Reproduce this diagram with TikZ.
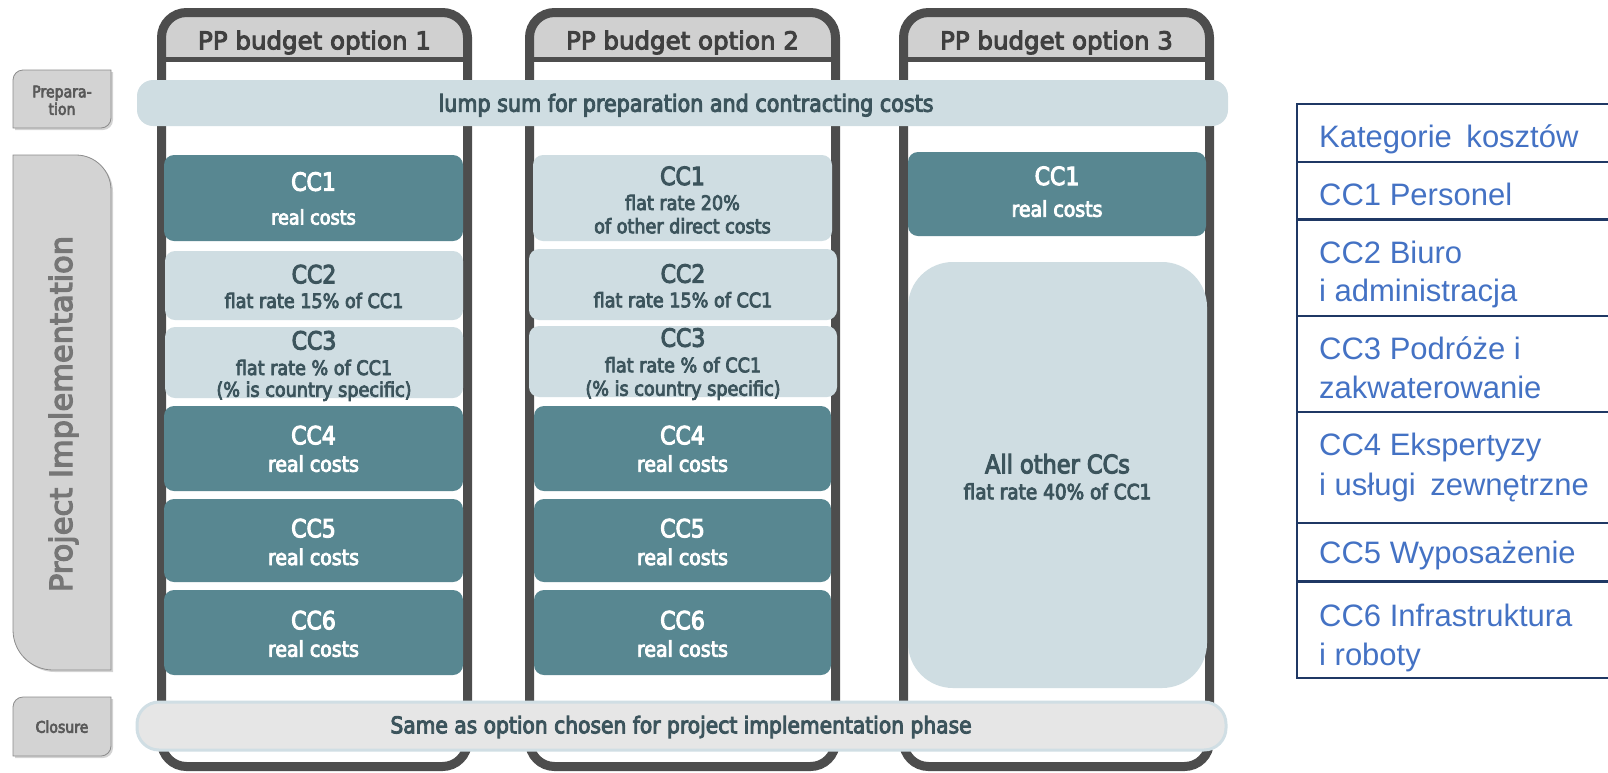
\documentclass[tikz,border=0pt]{standalone}
\usepackage{fontspec}
\setmainfont{DejaVu Sans}
\newfontfamily\narrowf{DejaVu Sans}[FakeStretch=0.88, FakeBold=4]
\newfontfamily\widef{DejaVu Sans}[FakeBold=4]
\newfontfamily\tablef{Liberation Sans}
\usetikzlibrary{shadows}
\newcommand\fsz[1]{\fontsize{#1}{#1}\selectfont}
\definecolor{teal1}{RGB}{88,135,145}
\definecolor{lightb}{RGB}{207,221,226}
\definecolor{framec}{RGB}{77,77,77}
\definecolor{hdr}{RGB}{208,208,208}
\definecolor{hdrtxt}{RGB}{64,64,64}
\definecolor{slate}{RGB}{60,84,92}
\definecolor{clfill}{RGB}{230,230,230}
\definecolor{clborder}{RGB}{208,222,228}
\definecolor{phfill}{RGB}{211,211,211}
\definecolor{phborder}{RGB}{140,140,140}
\definecolor{phtxt}{RGB}{89,89,89}
\definecolor{pitxt}{RGB}{118,118,118}
\definecolor{tbltxt}{RGB}{68,114,196}
\definecolor{tblline}{RGB}{31,56,100}
\begin{document}
\begin{tikzpicture}[x=1pt,y=-1pt,
  dark/.style={fill=teal1, draw=none, rounded corners=10pt, inner sep=0pt},
  light/.style={fill=lightb, draw=none, rounded corners=10pt, inner sep=0pt},
  txt/.style={anchor=base, inner sep=0pt},
  wttl/.style={txt, text=white, font={\narrowf\fsz{25}}},
  wsub/.style={txt, text=white, font={\narrowf\fsz{21.5}}},
  lttl/.style={txt, text=slate, font={\narrowf\fsz{25}}},
  lsub/.style={txt, text=slate, font={\narrowf\fsz{20}}},
  hdrtext/.style={txt, text=hdrtxt, font={\widef\fsz{24.5}}},
  phase/.style={fill=phfill, draw=phborder, line width=0.8pt, drop shadow={shadow xshift=2pt, shadow yshift=-2pt, opacity=0.35}},
  phtext/.style={txt, text=phtxt, font={\narrowf\fsz{16}}},
  tbl/.style={anchor=base west, inner sep=0pt, text=tbltxt, font={\tablef\fsz{31}}},
  tline/.style={draw=tblline, line width=2.2pt},
]
\useasboundingbox (0,0) rectangle (1608,772);

% column frames
\foreach \x in {157,525,899}{
  \begin{scope}
    \clip[rounded corners=25pt] (\x+4.5,12.5) rectangle (\x+310.5,766.5);
    \fill[white] (\x,0) rectangle (\x+315,772);
    \fill[hdr] (\x,0) rectangle (\x+315,59.5);
  \end{scope}
  \draw[draw=framec, line width=5pt] (\x+4.5,59.5) -- (\x+310.5,59.5);
  \draw[draw=framec, line width=9pt, rounded corners=25pt] (\x+4.5,12.5) rectangle (\x+310.5,766.5);
}
\node[hdrtext] (h1) at (314.5,49.3) {PP budget option 1};
\node[hdrtext] (h2) at (682.5,49.3) {PP budget option 2};
\node[hdrtext] (h3) at (1056.5,49.3) {PP budget option 3};

% bars
\node[fill=lightb, rounded corners=16pt, minimum width=1091pt, minimum height=46pt, inner sep=0pt] (lump) at (682.5,103) {};
\node[txt, text=slate, font={\narrowf\fsz{23.5}}] (lumpt) at (686,111.7) {lump sum for preparation and contracting costs};
\node[fill=clfill, draw=clborder, line width=3pt, rounded corners=22pt, minimum width=1089pt, minimum height=48pt, inner sep=0pt] (clbar) at (681.5,726) {};
\node[txt, text=slate, font={\narrowf\fsz{23}}] (clbart) at (681,733.3) {Same as option chosen for project implementation phase};

% column 1
\node[dark, minimum width=299pt, minimum height=86pt] (a1) at (313.5,198) {};
\node[light, minimum width=298pt, minimum height=69pt] (a2) at (314,285.5) {};
\node[light, minimum width=298pt, minimum height=71pt] (a3) at (314,362.5) {};
\node[dark, minimum width=299pt, minimum height=85pt] (a4) at (313.5,448.5) {};
\node[dark, minimum width=299pt, minimum height=83pt] (a5) at (313.5,540.5) {};
\node[dark, minimum width=299pt, minimum height=85pt] (a6) at (313.5,632.5) {};
\node[wttl] (a1t) at (313.5,190.7) {CC1};
\node[wsub, font={\narrowf\fsz{20}}] (a1s) at (313.5,224.5) {real costs};
\node[lttl] (a2t) at (314,283.3) {CC2};
\node[lsub] (a2s) at (314,308) {flat rate 15\% of CC1};
\node[lttl] (a3t) at (314,349.5) {CC3};
\node[lsub] (a3s) at (314,375) {flat rate \% of CC1};
\node[lsub] (a3u) at (314,396.7) {(\% is country specific)};
\node[wttl] (a4t) at (313.5,444.3) {CC4};
\node[wsub] (a4s) at (313.5,471.7) {real costs};
\node[wttl] (a5t) at (313.5,537.3) {CC5};
\node[wsub] (a5s) at (313.5,565) {real costs};
\node[wttl] (a6t) at (313.5,629.3) {CC6};
\node[wsub] (a6s) at (313.5,656.7) {real costs};

% column 2
\node[light, minimum width=299pt, minimum height=86pt] (b1) at (682.5,198) {};
\node[light, minimum width=308pt, minimum height=71pt] (b2) at (683,284.5) {};
\node[light, minimum width=308pt, minimum height=71pt] (b3) at (683,361.5) {};
\node[dark, minimum width=297pt, minimum height=85pt] (b4) at (682.5,448.5) {};
\node[dark, minimum width=297pt, minimum height=83pt] (b5) at (682.5,540.5) {};
\node[dark, minimum width=297pt, minimum height=85pt] (b6) at (682.5,632.5) {};
\node[lttl] (b1t) at (682.5,185) {CC1};
\node[lsub] (b1s) at (682.5,210) {flat rate 20\%};
\node[lsub] (b1u) at (682.5,233.3) {of other direct costs};
\node[lttl] (b2t) at (683,282.7) {CC2};
\node[lsub] (b2s) at (683,307.3) {flat rate 15\% of CC1};
\node[lttl] (b3t) at (683,346.7) {CC3};
\node[lsub] (b3s) at (683,372.3) {flat rate \% of CC1};
\node[lsub] (b3u) at (683,395.7) {(\% is country specific)};
\node[wttl] (b4t) at (682.5,444.3) {CC4};
\node[wsub] (b4s) at (682.5,471.7) {real costs};
\node[wttl] (b5t) at (682.5,537.3) {CC5};
\node[wsub] (b5s) at (682.5,565) {real costs};
\node[wttl] (b6t) at (682.5,629.3) {CC6};
\node[wsub] (b6s) at (682.5,656.7) {real costs};

% column 3
\node[dark, minimum width=298pt, minimum height=84pt] (c1) at (1057,194) {};
\node[light, rounded corners=45pt, minimum width=299pt, minimum height=426pt] (c2) at (1057.5,475) {};
\node[wttl] (c1t) at (1057,185) {CC1};
\node[wsub] (c1s) at (1057,216.7) {real costs};
\node[lttl, font={\narrowf\fsz{25.5}}] (c2t) at (1057.5,473.3) {All other CCs};
\node[lsub, font={\narrowf\fsz{21}}] (c2s) at (1057.5,499.3) {flat rate 40\% of CC1};

% phase boxes
\path[phase] (13,80) .. controls (13,74.5) and (17.5,70) .. (23,70) -- (111,70) -- (111,118) .. controls (111,123.5) and (106.5,128) .. (101,128) -- (13,128) -- cycle;
\path[phase] (13,155) -- (76,155) .. controls (95.3,155) and (111,170.7) .. (111,190) -- (111,670) -- (53,670) .. controls (30.9,670) and (13,652.1) .. (13,630) -- cycle;
\path[phase] (13,707) .. controls (13,701.5) and (17.5,697) .. (23,697) -- (111,697) -- (111,746) .. controls (111,751.5) and (106.5,756) .. (101,756) -- (13,756) -- cycle;
\node[phtext] (p1) at (62,97.3) {Prepara-};
\node[phtext] (p2) at (62,114.8) {tion};
\node[phtext] (p3) at (62,732.7) {Closure};
\node[txt, rotate=90, text=pitxt, font={\widef\fsz{30.5}}] (pi) at (72,414) {Project Implementation};

% table
\draw[tline] (1297,104) -- (1297,678);
\foreach \yy in {104,162,219.5,316,412,523,581.5,678}{
  \draw[tline] (1296,\yy) -- (1608,\yy);
}
\node[tbl] (t0) at (1319,147.5) {Kategorie\hspace{6pt} kosztów};
\node[tbl] (t1) at (1319,205.4) {CC1 Personel};
\node[tbl] (t2a) at (1319,263) {CC2 Biuro};
\node[tbl] (t2b) at (1319,301.5) {i administracja};
\node[tbl] (t3a) at (1319,359) {CC3 Podróże i};
\node[tbl] (t3b) at (1319,398.8) {zakwaterowanie};
\node[tbl] (t4a) at (1319,455.4) {CC4 Ekspertyzy};
\node[tbl] (t4b) at (1319,495.8) {i usługi\hspace{6pt} zewnętrzne};
\node[tbl] (t5) at (1319,563) {CC5 Wyposażenie};
\node[tbl] (t6a) at (1319,626.5) {CC6 Infrastruktura};
\node[tbl] (t6b) at (1319,665) {i roboty};
\end{tikzpicture}
\end{document}
